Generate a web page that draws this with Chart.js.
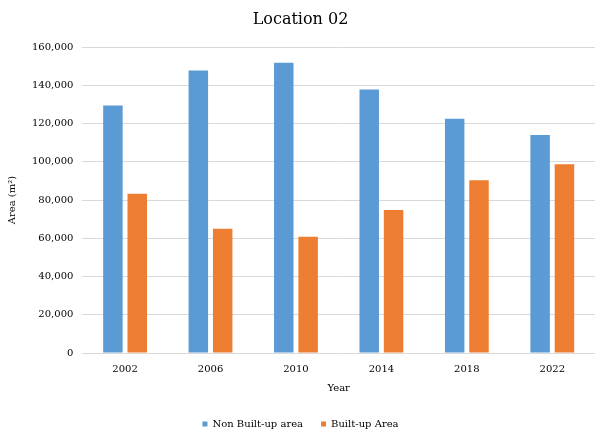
<!DOCTYPE html>
<html>
<head>
<meta charset="utf-8">
<script src="https://cdn.jsdelivr.net/npm/chart.js@4/dist/chart.umd.min.js"></script>
<style>
html,body{margin:0;padding:0;background:#fff;}
#wrap{width:595px;height:432px;position:relative;}
</style>
</head>
<body>
<div id="wrap"><canvas id="c" width="595" height="432"></canvas></div>
<script>
const years = ["2002", "2006", "2010", "2014", "2018", "2022"];
const nonBuiltUp = [129500, 147800, 151800, 137900, 122600, 114100];
const builtUp = [83300, 65000, 60800, 74800, 90400, 98800];
const yTicks = [0, 20000, 40000, 60000, 80000, 100000, 120000, 140000, 160000];
const seriesNames = ["Non Built-up area", "Built-up Area"];

const serif = "'DejaVu Serif', 'Liberation Serif', serif";
new Chart(document.getElementById('c'), {
  type: 'bar',
  data: {
    labels: years,
    datasets: [
      { label: seriesNames[0], data: nonBuiltUp, backgroundColor: '#5b9bd5', categoryPercentage: 0.57, barPercentage: 0.8 },
      { label: seriesNames[1], data: builtUp, backgroundColor: '#ed7d31', categoryPercentage: 0.57, barPercentage: 0.8 }
    ]
  },
  options: {
    responsive: false,
    animation: false,
    layout: { padding: { left: 6, right: 0, top: 0, bottom: 3 } },
    plugins: {
      title: { display: true, text: 'Location 02', color: '#000', font: { family: serif, size: 16, weight: 'normal' }, padding: { top: 10, bottom: 18 } },
      legend: {
        position: 'bottom',
        maxHeight: 28,
        labels: { boxWidth: 5, boxHeight: 5, color: '#000', font: { family: serif, size: 10 }, padding: 18 }
      },
      tooltip: { enabled: false }
    },
    scales: {
      x: {
        grid: { display: false, drawTicks: false },
        border: { display: false },
        ticks: { color: '#000', font: { family: serif, size: 10 }, padding: 10 },
        title: { display: true, text: 'Year', color: '#000', font: { family: serif, size: 10 }, padding: { top: -3, bottom: 7 } }
      },
      y: {
        min: 0, max: 160000,
        afterBuildTicks: (s) => { s.ticks = yTicks.map(v => ({ value: v })); },
        grid: { color: '#d9d9d9', drawTicks: false, lineWidth: 1 },
        border: { display: false },
        ticks: { color: '#000', font: { family: serif, size: 10 }, padding: 9, callback: (v) => Number(v).toLocaleString('en-US') },
        title: { display: true, text: 'Area (m²)', color: '#000', font: { family: serif, size: 10 }, padding: { top: 0, bottom: 5 } }
      }
    }
  }
});
</script>
</body>
</html>
